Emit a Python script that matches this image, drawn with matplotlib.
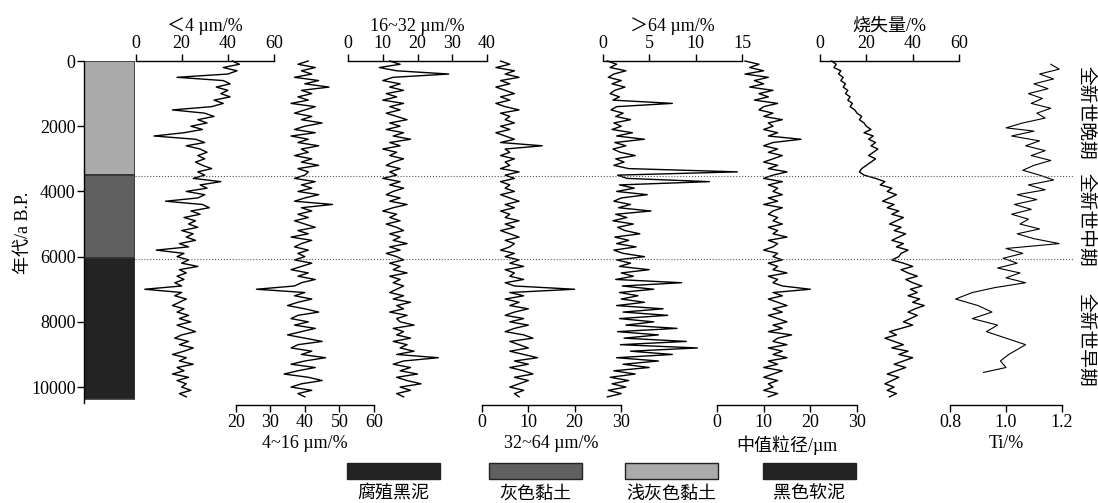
import matplotlib
matplotlib.use('Agg')
import matplotlib.pyplot as plt
from matplotlib.patches import Rectangle

plt.rcParams['font.family'] = ['Liberation Serif', 'Noto Sans CJK SC']
plt.rcParams['font.size'] = 13
plt.rcParams['axes.linewidth'] = 1.0

W, H = 1098, 503
YMAX = 10550

## DATA ##

# sample ages (a B.P.) shared by the grain size and LOI curves
AGE = [0, 100, 200, 300, 400, 500, 600, 700, 800, 900,
       1000, 1100, 1200, 1300, 1400, 1500, 1600, 1700, 1800, 1900,
       2000, 2100, 2200, 2300, 2400, 2500, 2600, 2700, 2800, 2900,
       3000, 3100, 3200, 3300, 3400, 3500, 3600, 3700, 3800, 3900,
       4000, 4100, 4200, 4300, 4400, 4500, 4600, 4700, 4800, 4900,
       5000, 5100, 5200, 5300, 5400, 5500, 5600, 5700, 5800, 5900,
       6000, 6100, 6200, 6300, 6400, 6500, 6600, 6700, 6800, 6900,
       7000, 7100, 7200, 7300, 7400, 7500, 7600, 7700, 7800, 7900,
       8000, 8100, 8200, 8300, 8400, 8500, 8600, 8700, 8800, 8900,
       9000, 9100, 9200, 9300, 9400, 9500, 9600, 9700, 9800, 9900,
       10000, 10100, 10200, 10300]

LT4 = [42, 45, 38, 44, 40, 18, 38, 41, 35, 40,
       37, 41, 34, 38, 33, 16, 30, 34, 27, 31,
       24, 29, 21, 8, 26, 30, 22, 28, 31, 27,
       30, 26, 29, 33, 27, 30, 25, 37, 28, 31,
       22, 30, 27, 13, 29, 32, 24, 28, 21, 26,
       23, 27, 20, 25, 22, 26, 19, 23, 9, 21,
       18, 23, 20, 27, 19, 22, 18, 21, 17, 20,
       4, 20, 17, 22, 19, 16, 21, 18, 23, 19,
       24, 18, 22, 26, 20, 17, 23, 19, 25, 21,
       16, 22, 19, 25, 18, 21, 16, 23, 18, 22,
       20, 24, 19, 22]

M416 = [41, 38, 43, 39, 42, 37, 44, 40, 47, 39,
        42, 38, 41, 36, 43, 40, 37, 42, 39, 45,
        40, 37, 43, 36, 41, 38, 44, 39, 41, 37,
        42, 39, 44, 38, 41, 40, 37, 43, 39, 42,
        38, 44, 40, 37, 48, 39, 42, 38, 41, 37,
        40, 43, 38, 41, 36, 42, 39, 37, 41, 38,
        40, 37, 42, 39, 36, 41, 38, 43, 39, 37,
        26, 40, 37, 42, 38, 35, 40, 44, 38, 36,
        41, 37, 43, 39, 35, 40, 45, 38, 36, 42,
        39, 46, 40, 36, 43, 38, 34, 41, 45, 39,
        36, 42, 38, 40]

M1632 = [12, 15, 9, 14, 29, 13, 10, 15, 12, 16,
         11, 14, 10, 16, 12, 15, 11, 14, 17, 12,
         15, 11, 16, 13, 18, 12, 15, 10, 14, 12,
         16, 13, 11, 15, 12, 14, 10, 15, 12, 16,
         13, 11, 15, 12, 17, 13, 10, 14, 12, 15,
         11, 14, 16, 12, 15, 13, 17, 12, 15, 11,
         14, 16, 12, 15, 13, 17, 12, 15, 13, 16,
         14, 12, 16, 13, 18, 14, 16, 12, 17, 14,
         15, 19, 13, 16, 14, 18, 13, 17, 15, 19,
         14, 26, 16, 13, 18, 15, 20, 14, 17, 21,
         15, 18, 14, 16]

M3264 = [4, 6, 3, 7, 5, 8, 4, 6, 3, 5,
         7, 4, 6, 3, 5, 8, 4, 6, 5, 7,
         4, 6, 3, 5, 7, 4, 13, 5, 6, 4,
         7, 5, 6, 4, 8, 5, 7, 4, 6, 5,
         7, 4, 6, 8, 5, 7, 4, 6, 5, 8,
         5, 7, 4, 6, 8, 5, 7, 6, 4, 7,
         5, 8, 6, 9, 5, 7, 6, 9, 5, 7,
         20, 6, 9, 5, 8, 6, 10, 7, 5, 9,
         6, 10, 7, 5, 9, 11, 6, 8, 10, 6,
         9, 12, 7, 10, 6, 9, 11, 7, 10, 8,
         6, 9, 7, 8]

GT64 = [0.5, 1.5, 0.8, 2.5, 1.2, 0.6, 2.0, 1.0, 2.4, 1.3,
        0.8, 1.8, 1.1, 7.5, 1.5, 0.9, 2.2, 1.4, 3.0, 1.2,
        2.0, 1.0, 3.2, 1.5, 4.5, 1.3, 2.5, 1.1, 1.9, 3.5,
        1.4, 2.3, 1.2, 2.8, 14.5, 1.6, 2.6, 11.5, 1.8, 3.4,
        1.5, 4.8, 2.0, 1.2, 3.0, 1.7, 5.2, 1.4, 2.6, 1.1,
        3.3, 1.6, 2.4, 4.0, 1.3, 2.8, 1.5, 3.6, 1.2, 2.2,
        4.5, 1.5, 3.0, 1.8, 5.0, 2.0, 3.3, 1.4, 8.5, 2.1,
        5.5, 1.8, 3.8, 2.0, 4.5, 1.5, 6.5, 2.2, 7.0, 1.8,
        5.5, 2.5, 8.0, 1.6, 6.0, 2.3, 9.0, 1.9, 10.2, 3.0,
        7.5, 1.5, 6.0, 2.2, 5.0, 1.2, 3.5, 0.8, 2.8, 1.0,
        2.5, 0.6, 2.0, 0.5]

MED = [6, 9, 7, 10, 6, 11, 8, 10, 7, 12,
       9, 11, 8, 13, 10, 9, 12, 10, 14, 11,
       12, 10, 13, 11, 18, 12, 10, 13, 11, 14,
       12, 10, 13, 11, 15, 12, 10, 14, 11, 13,
       12, 14, 11, 13, 10, 14, 12, 11, 13, 12,
       14, 11, 13, 12, 15, 11, 13, 12, 10, 13,
       12, 14, 11, 13, 12, 15, 11, 13, 12, 14,
       20, 12, 14, 11, 13, 15, 12, 14, 11, 13,
       15, 12, 14, 11, 16, 13, 12, 15, 11, 14,
       12, 15, 11, 13, 10, 14, 12, 10, 13, 11,
       12, 10, 13, 11]

LOI = [5, 7, 6, 9, 8, 10, 9, 11, 10, 12,
       11, 13, 12, 14, 13, 15, 16, 18, 17, 19,
       20, 22, 19, 23, 21, 24, 22, 25, 23, 21,
       24, 22, 20, 18, 17, 19, 24, 28, 26, 31,
       29, 33, 30, 27, 32, 29, 34, 31, 36, 33,
       30, 35, 32, 37, 34, 31, 36, 33, 38, 35,
       34, 31, 36, 40, 35, 38, 42, 37, 40, 44,
       39, 42, 38, 43, 40, 45, 41, 38, 42, 39,
       36, 40, 35, 30, 33, 28, 32, 36, 31, 38,
       34, 40, 36, 32, 37, 33, 29, 34, 31, 28,
       32, 29, 33, 30]

TI_AGE = [100, 250, 400, 550, 700, 850, 1000, 1150, 1300, 1450,
          1600, 1750, 1900, 2050, 2150, 2300, 2450, 2600, 2750, 2900,
          3050, 3200, 3350, 3500, 3650, 3800, 3950, 4100, 4250, 4400,
          4550, 4700, 4850, 5000, 5150, 5300, 5450, 5600, 5750, 5900,
          6050, 6200, 6350, 6500, 6650, 6800, 6950, 7100, 7300, 7500,
          7700, 7900, 8100, 8300, 8500, 8700, 8850, 9000, 9200, 9400,
          9550]
TI = [1.16, 1.19, 1.12, 1.17, 1.10, 1.15, 1.08, 1.13, 1.09, 1.16,
      1.11, 1.14, 1.06, 1.00, 1.10, 1.02, 1.12, 1.07, 1.14, 1.09,
      1.16, 1.10, 1.06, 1.12, 1.17, 1.08, 1.14, 1.04, 1.11, 1.03,
      1.09, 1.02, 1.08, 1.05, 1.12, 1.04, 1.10, 1.19, 1.00, 1.06,
      0.99, 1.04, 0.97, 1.05, 1.00, 1.07, 0.96, 0.88, 0.82, 0.90,
      0.95, 0.88, 0.97, 0.93, 1.00, 1.07, 1.04, 1.01, 0.98, 1.00,
      0.92]

# lithology column
LITHO_TOP = [0, 3500, 6050]
LITHO_BOT = [3500, 6050, 10370]
LITHO_COLORS = ['#ababab', '#606060', '#232323']

# zone boundaries and names
ZONE_BOUNDS = [3520, 6070]
ZONE_MID = [1600, 4870, 8560]
ZONE_NAMES = ['全新世晚期', '全新世中期', '全新世早期']

LEGEND_LABELS = ['腐殖黑泥', '灰色黏土', '浅灰色黏土', '黑色软泥']
LEGEND_COLORS = ['#232323', '#606060', '#ababab', '#232323']


## HELPERS ##

def px_axes(fig, x0, x1, y0=61, y1=405):
  return fig.add_axes([x0 / W, 1 - y1 / H, (x1 - x0) / W, (y1 - y0) / H])


def track(fig, x0, x1, age, vals, xlim, ticks, ticklabels, label, side, lw=1.0):
  ax = px_axes(fig, x0, x1)
  ax.plot(vals, age, color='k', lw=lw, clip_on=False)
  ax.set_xlim(xlim)
  ax.set_ylim(YMAX, 0)
  ax.patch.set_visible(False)
  for s in ['left', 'right', 'top', 'bottom']:
    ax.spines[s].set_visible(s == side)
  ax.yaxis.set_visible(False)
  if side == 'top':
    ax.xaxis.tick_top()
    ax.xaxis.set_label_position('top')
  ax.set_xticks(ticks)
  ax.set_xticklabels(ticklabels)
  ax.tick_params(axis='x', direction='out', length=5, width=1, pad=1.5, labelsize=13)
  ax.set_xlabel(label, fontsize=13, labelpad=3)
  return ax


## FIGURE ##

fig = plt.figure(figsize=(W / 100, H / 100), dpi=100)

# lithology column + age axis
lax = px_axes(fig, 84, 135)
lax.bar([0.5] * 3, [b - t for t, b in zip(LITHO_TOP, LITHO_BOT)], bottom=LITHO_TOP,
        width=1, color=LITHO_COLORS, edgecolor='#333333', linewidth=1.2)
lax.set_xlim(0, 1)
lax.set_ylim(YMAX, 0)
for s in ['right', 'top', 'bottom']:
  lax.spines[s].set_visible(False)
lax.spines['left'].set_bounds(0, 10480)
lax.set_xticks([])
lax.set_yticks([0, 2000, 4000, 6000, 8000, 10000])
lax.tick_params(axis='y', direction='out', length=5, width=1, pad=1, labelsize=13)
lax.set_ylabel('年代/a B.P.', fontsize=13, labelpad=-1)

track(fig, 135.5, 274, AGE, LT4, (0, 60), [0, 20, 40, 60], ['0', '20', '40', '60'],
      '＜4 µm/%', 'top')
track(fig, 235.7, 374, AGE, M416, (20, 60), [20, 30, 40, 50, 60],
      ['20', '30', '40', '50', '60'], '4~16 µm/%', 'bottom')
track(fig, 348, 487, AGE, M1632, (0, 40), [0, 10, 20, 30, 40],
      ['0', '10', '20', '30', '40'], '16~32 µm/%', 'top')
track(fig, 482, 621, AGE, M3264, (0, 30), [0, 10, 20, 30], ['0', '10', '20', '30'],
      '32~64 µm/%', 'bottom')
track(fig, 602.7, 742, AGE, GT64, (0, 15), [0, 5, 10, 15], ['0', '5', '10', '15'],
      '＞64 µm/%', 'top')
track(fig, 717, 857, AGE, MED, (0, 30), [0, 10, 20, 30], ['0', '10', '20', '30'],
      '中值粒径/µm', 'bottom')
track(fig, 820, 959, AGE, LOI, (0, 60), [0, 20, 40, 60], ['0', '20', '40', '60'],
      '烧失量/%', 'top')
track(fig, 950, 1062, TI_AGE, TI, (0.8, 1.2), [0.8, 1.0, 1.2], ['0.8', '1.0', '1.2'],
      'Ti/%', 'bottom', lw=0.8)

# zone boundaries and names
oax = px_axes(fig, 135, 1073)
oax.set_xlim(0, 1)
oax.set_ylim(YMAX, 0)
oax.axis('off')
oax.hlines(ZONE_BOUNDS, 0, 1, colors='#555555', linestyles=':', linewidth=0.8)
for y, name in zip(ZONE_MID, ZONE_NAMES):
  oax.text(1.014, y, name, rotation=270, ha='center', va='center', fontsize=13.5,
           family=['Noto Sans CJK SC'])

# legend row
gax = fig.add_axes([330 / W, 0, 550 / W, 48 / H])
gax.set_xlim(330, 880)
gax.set_ylim(503, 455)
gax.axis('off')
for x0, lab, col in zip([347, 489, 625, 763], LEGEND_LABELS, LEGEND_COLORS):
  gax.add_patch(Rectangle((x0, 463), 93, 16, facecolor=col, edgecolor='#222222', lw=1))
  gax.text(x0 + 46.5, 494, lab, ha='center', va='center', fontsize=13)

fig.savefig('out.png', dpi=100)
